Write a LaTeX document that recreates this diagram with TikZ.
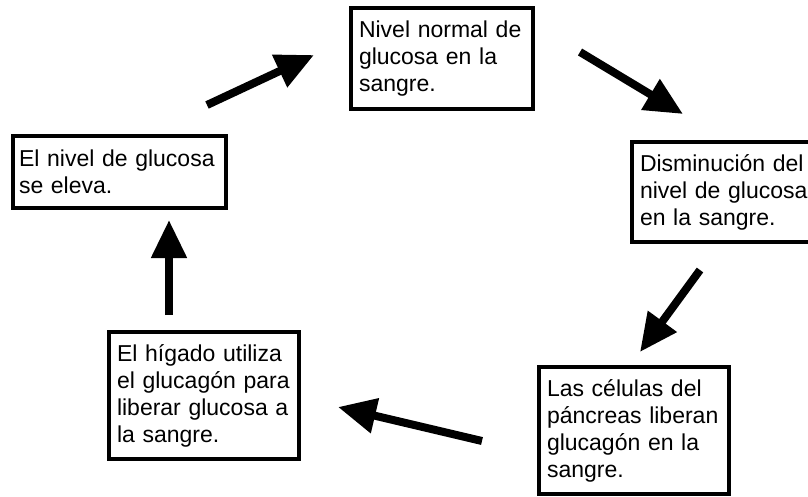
\documentclass[tikz,border=0pt]{standalone}
\usepackage{fontspec}
\setmainfont{Liberation Sans}
\usetikzlibrary{arrows.meta}

\begin{document}
\begin{tikzpicture}[x=1pt, y=-1pt,
    stagebox/.style={draw, line width=4pt, anchor=north west, align=left,
      inner xsep=8pt, inner ysep=4pt, font=\fontsize{23}{27}\selectfont},
    cyclearrow/.style={line width=8pt,
      -{Triangle[length=38pt, width=34pt]}}]
  \useasboundingbox (0, 0) rectangle (808, 496);
  \clip (0, 0) rectangle (808, 496);
  % boxes of the cycle
  \node[stagebox, text width=166pt, minimum height=101pt] (normal) at (349, 6)
    {Nivel normal de\\glucosa en la\\sangre.};
  \node[stagebox, text width=300pt, minimum height=100pt] (baja) at (630, 140)
    {Disminución del\\nivel de glucosa\\en la sangre.};
  \node[stagebox, text width=174pt, minimum height=127pt] (pancreas) at (537, 365)
    {Las células del\\páncreas liberan\\glucagón en la\\sangre.};
  \node[stagebox, text width=174pt, minimum height=127pt] (higado) at (107, 330)
    {El hígado utiliza\\el glucagón para\\liberar glucosa a\\la sangre.};
  \node[stagebox, inner xsep=6pt, text width=201pt, minimum height=72pt] (eleva) at (11, 134)
    {El nivel de glucosa\\se eleva.};
  % arrows between the boxes
  \coordinate (a1s) at (207, 105);  \coordinate (a1e) at (314, 55);
  \coordinate (a2s) at (580, 52);   \coordinate (a2e) at (683, 114);
  \coordinate (a3s) at (700, 270);  \coordinate (a3e) at (640, 352);
  \coordinate (a4s) at (482, 441);  \coordinate (a4e) at (338, 407);
  \coordinate (a5s) at (169, 315);  \coordinate (a5e) at (169, 220);
  \draw[cyclearrow] (a1s) -- (a1e);
  \draw[cyclearrow] (a2s) -- (a2e);
  \draw[cyclearrow] (a3s) -- (a3e);
  \draw[cyclearrow] (a4s) -- (a4e);
  \draw[cyclearrow] (a5s) -- (a5e);
\end{tikzpicture}
\end{document}
